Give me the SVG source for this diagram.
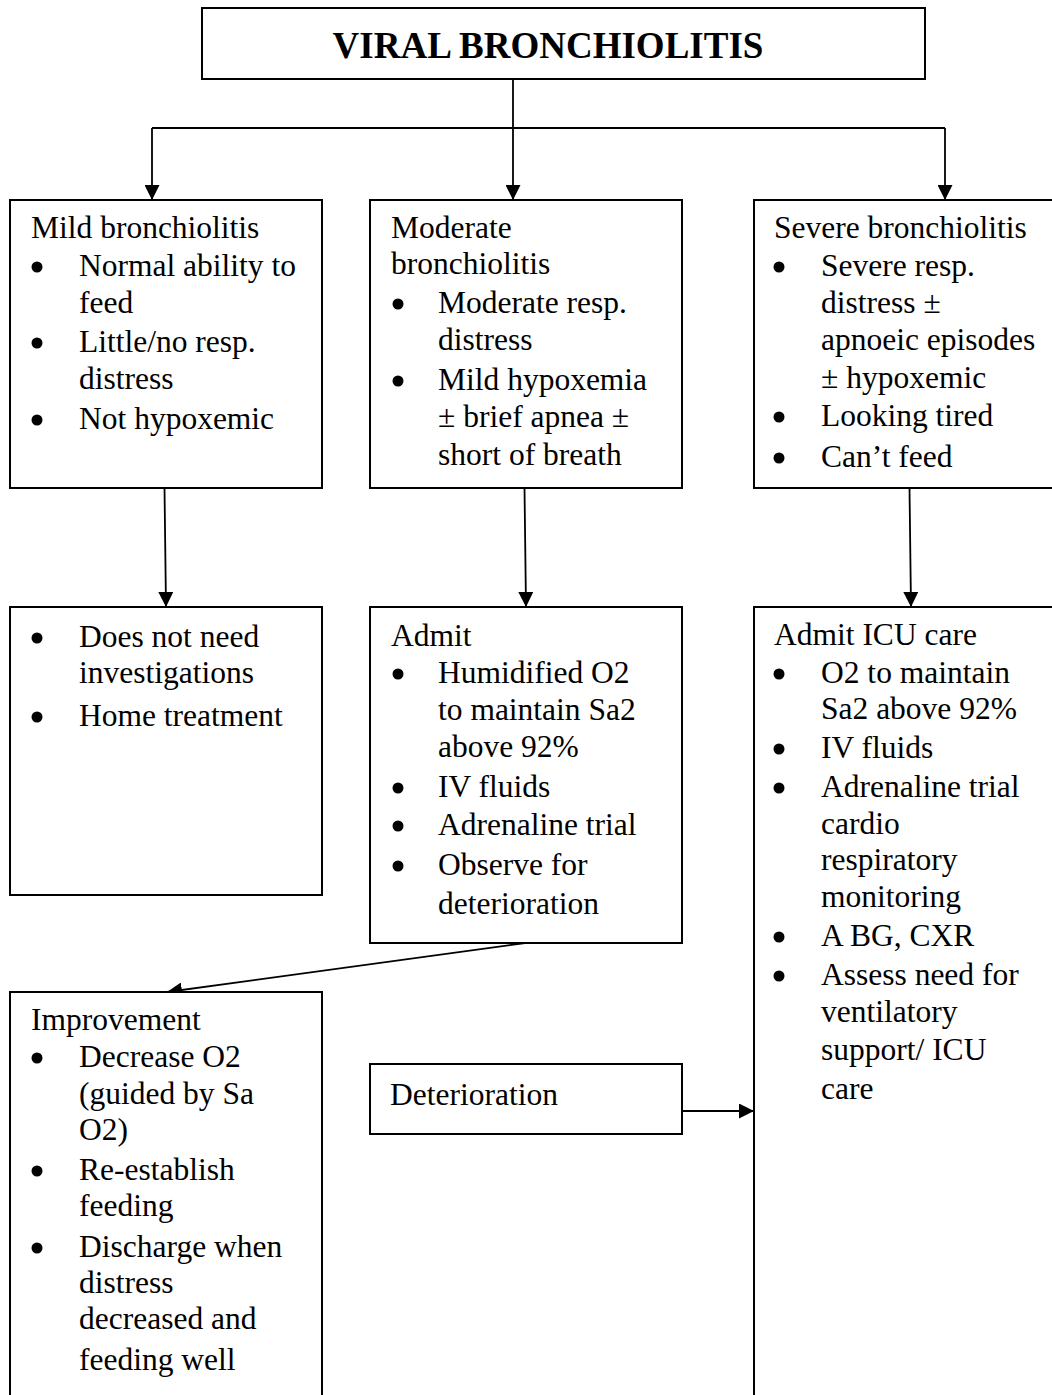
<svg xmlns="http://www.w3.org/2000/svg" width="1052" height="1395" viewBox="0 0 1052 1395">
<style>
.box{fill:#fff;stroke:#000;stroke-width:2}
.t{font-family:"Liberation Serif","Times New Roman",serif;font-size:31.5px;fill:#000}
.title{font-family:"Liberation Serif","Times New Roman",serif;font-size:37px;font-weight:bold;fill:#000}
.b{fill:#000}
.c{stroke:#000;stroke-width:1.8;fill:none}
</style>
<defs>
<marker id="ah" viewBox="0 0 15 15" refX="15" refY="7.5" markerWidth="15" markerHeight="15" markerUnits="userSpaceOnUse" orient="auto">
<path d="M0,0 L15,7.5 L0,15 Z" fill="#000"/>
</marker>
</defs>
<rect width="1052" height="1395" fill="#fff"/>
<g id="connectors">
<line class="c" x1="513" y1="79" x2="513" y2="128"/>
<line class="c" x1="152" y1="128" x2="945" y2="128"/>
<line class="c" x1="152" y1="128" x2="152" y2="200" marker-end="url(#ah)"/>
<line class="c" x1="513" y1="128" x2="513" y2="200" marker-end="url(#ah)"/>
<line class="c" x1="945" y1="128" x2="945" y2="200" marker-end="url(#ah)"/>
<line class="c" x1="164.5" y1="488" x2="166" y2="607" marker-end="url(#ah)"/>
<line class="c" x1="524.5" y1="488" x2="526" y2="607" marker-end="url(#ah)"/>
<line class="c" x1="909.5" y1="488" x2="911" y2="607" marker-end="url(#ah)"/>
<line class="c" x1="525" y1="943" x2="167" y2="992" marker-end="url(#ah)"/>
<line class="c" x1="682" y1="1111" x2="754" y2="1111" marker-end="url(#ah)"/>
</g>
<g id="title">
<rect class="box" x="202" y="8" width="723" height="71"/>
<text class="title" x="548" y="58" text-anchor="middle">VIRAL BRONCHIOLITIS</text>
</g>
<g id="mild">
<rect class="box" x="10" y="200" width="312" height="288"/>
<text class="t" x="31" y="238">Mild bronchiolitis</text>
<circle class="b" cx="37" cy="267" r="5.5"/><text class="t" x="79" y="276">Normal ability to</text>
<text class="t" x="79" y="313">feed</text>
<circle class="b" cx="37" cy="343" r="5.5"/><text class="t" x="79" y="352">Little/no resp.</text>
<text class="t" x="79" y="389">distress</text>
<circle class="b" cx="37" cy="420" r="5.5"/><text class="t" x="79" y="429">Not hypoxemic</text>
</g>
<g id="moderate">
<rect class="box" x="370" y="200" width="312" height="288"/>
<text class="t" x="391" y="238">Moderate</text>
<text class="t" x="391" y="274">bronchiolitis</text>
<circle class="b" cx="398" cy="304" r="5.5"/><text class="t" x="438" y="313">Moderate resp.</text>
<text class="t" x="438" y="350">distress</text>
<circle class="b" cx="398" cy="381" r="5.5"/><text class="t" x="438" y="390">Mild hypoxemia</text>
<text class="t" x="438" y="427">± brief apnea ±</text>
<text class="t" x="438" y="465">short of breath</text>
</g>
<g id="severe">
<rect class="box" x="754" y="200" width="320" height="288"/>
<text class="t" x="774" y="238">Severe bronchiolitis</text>
<circle class="b" cx="779" cy="267" r="5.5"/><text class="t" x="821" y="276">Severe resp.</text>
<text class="t" x="821" y="313">distress ±</text>
<text class="t" x="821" y="350">apnoeic episodes</text>
<text class="t" x="821" y="388">± hypoxemic</text>
<circle class="b" cx="779" cy="417" r="5.5"/><text class="t" x="821" y="426">Looking tired</text>
<circle class="b" cx="779" cy="458" r="5.5"/><text class="t" x="821" y="467">Can’t feed</text>
</g>
<g id="mild-care">
<rect class="box" x="10" y="607" width="312" height="288"/>
<circle class="b" cx="37" cy="638" r="5.5"/><text class="t" x="79" y="647">Does not need</text>
<text class="t" x="79" y="683">investigations</text>
<circle class="b" cx="37" cy="717" r="5.5"/><text class="t" x="79" y="726">Home treatment</text>
</g>
<g id="moderate-care">
<rect class="box" x="370" y="607" width="312" height="336"/>
<text class="t" x="391" y="646">Admit</text>
<circle class="b" cx="398" cy="674" r="5.5"/><text class="t" x="438" y="683">Humidified O2</text>
<text class="t" x="438" y="720">to maintain Sa2</text>
<text class="t" x="438" y="757">above 92%</text>
<circle class="b" cx="398" cy="788" r="5.5"/><text class="t" x="438" y="797">IV fluids</text>
<circle class="b" cx="398" cy="826" r="5.5"/><text class="t" x="438" y="835">Adrenaline trial</text>
<circle class="b" cx="398" cy="866" r="5.5"/><text class="t" x="438" y="875">Observe for</text>
<text class="t" x="438" y="914">deterioration</text>
</g>
<g id="severe-care">
<rect class="box" x="754" y="607" width="320" height="800"/>
<text class="t" x="774" y="645">Admit ICU care</text>
<circle class="b" cx="779" cy="674" r="5.5"/><text class="t" x="821" y="683">O2 to maintain</text>
<text class="t" x="821" y="719">Sa2 above 92%</text>
<circle class="b" cx="779" cy="749" r="5.5"/><text class="t" x="821" y="758">IV fluids</text>
<circle class="b" cx="779" cy="788" r="5.5"/><text class="t" x="821" y="797">Adrenaline trial</text>
<text class="t" x="821" y="834">cardio</text>
<text class="t" x="821" y="870">respiratory</text>
<text class="t" x="821" y="907">monitoring</text>
<circle class="b" cx="779" cy="937" r="5.5"/><text class="t" x="821" y="946">A BG, CXR</text>
<circle class="b" cx="779" cy="976" r="5.5"/><text class="t" x="821" y="985">Assess need for</text>
<text class="t" x="821" y="1022">ventilatory</text>
<text class="t" x="821" y="1060">support/ ICU</text>
<text class="t" x="821" y="1099">care</text>
</g>
<g id="improvement">
<rect class="box" x="10" y="992" width="312" height="420"/>
<text class="t" x="31" y="1030">Improvement</text>
<circle class="b" cx="37" cy="1058" r="5.5"/><text class="t" x="79" y="1067">Decrease O2</text>
<text class="t" x="79" y="1104">(guided by Sa</text>
<text class="t" x="79" y="1140">O2)</text>
<circle class="b" cx="37" cy="1171" r="5.5"/><text class="t" x="79" y="1180">Re-establish</text>
<text class="t" x="79" y="1216">feeding</text>
<circle class="b" cx="37" cy="1248" r="5.5"/><text class="t" x="79" y="1257">Discharge when</text>
<text class="t" x="79" y="1293">distress</text>
<text class="t" x="79" y="1329">decreased and</text>
<text class="t" x="79" y="1370">feeding well</text>
</g>
<g id="deterioration">
<rect class="box" x="370" y="1064" width="312" height="70"/>
<text class="t" x="390" y="1105">Deterioration</text>
</g>
</svg>
